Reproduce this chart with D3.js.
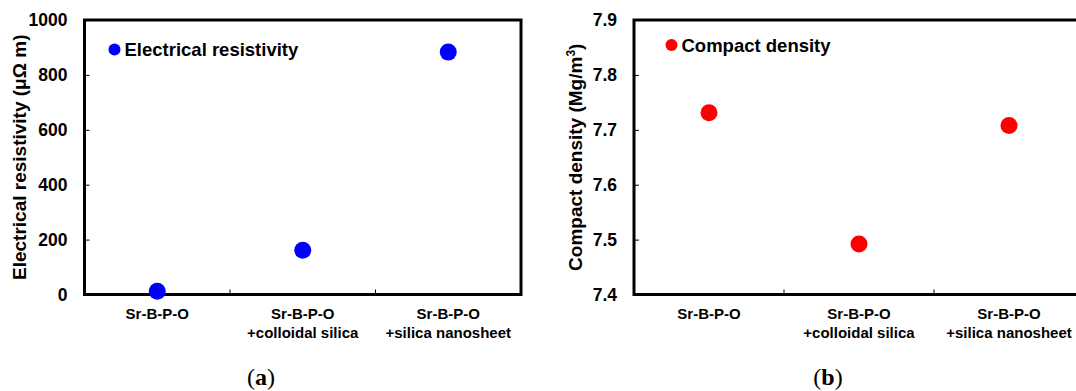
<!DOCTYPE html>
<html>
<head>
<meta charset="utf-8">
<script src="https://cdn.jsdelivr.net/npm/d3@7"></script>
<style>
  body { margin: 0; background: #fff; }
  svg { display: block; }
  text { font-family: "Liberation Sans", Arial, sans-serif; font-weight: bold; fill: #000; }
</style>
</head>
<body>
<div id="chart"></div>
<script>
// data
var categories = [
    ["Sr-B-P-O"],
    ["Sr-B-P-O", "+colloidal silica"],
    ["Sr-B-P-O", "+silica nanosheet"]
];
var resistivity = [12, 161, 883];
var density = [7.731, 7.492, 7.708];
var resistivityTicks = [0, 200, 400, 600, 800, 1000];
var densityTicks = [7.4, 7.5, 7.6, 7.7, 7.8, 7.9];

var width = 1076,
    height = 391;

var svg = d3.select('#chart')
    .append('svg')
        .attr('width', width)
        .attr('height', height);

function translate(x, y) { return 'translate(' + x + ',' + y + ')'; }

function drawPanel(opts) {
    var m = opts.frame,
        w = m.right - m.left,
        h = m.bottom - m.top;

    var g = svg.append('g').attr('transform', translate(m.left, m.top));

    var x = d3.scaleBand()
        .domain(d3.range(categories.length))
        .range([0, w])
        .padding(0);

    var y = d3.scaleLinear()
        .domain(opts.domain)
        .range([h, 0]);

    // y axis, ticks pointing inward
    var yAxis = g.append('g')
        .call(d3.axisLeft(y)
            .tickValues(opts.ticks)
            .tickSize(-5)
            .tickPadding(17)
            .tickFormat(opts.format));
    yAxis.select('.domain').remove();
    yAxis.selectAll('line').attr('stroke', '#000').attr('stroke-width', 1);
    yAxis.selectAll('text')
        .style('font-size', '17.5px')
        .style('font-family', '"Liberation Sans", Arial, sans-serif')
        .style('font-weight', 'bold');

    // x ticks at the category boundaries
    g.selectAll('.xtick')
        .data(d3.range(1, categories.length))
        .enter()
        .append('line')
            .attr('x1', function (d) { return d * x.step(); })
            .attr('x2', function (d) { return d * x.step(); })
            .attr('y1', h)
            .attr('y2', h - 5)
            .attr('stroke', '#000')
            .attr('stroke-width', 1);

    // category labels
    var lab = g.selectAll('.cat')
        .data(categories)
        .enter()
        .append('text')
            .attr('text-anchor', 'middle')
            .style('font-size', '15px')
            .attr('transform', function (d, i) { return translate(x(i) + x.bandwidth() / 2, h + 24); });
    lab.selectAll('tspan')
        .data(function (d) { return d; })
        .enter()
        .append('tspan')
            .attr('x', 0)
            .attr('y', function (d, i) { return i * 19.5; })
            .text(function (d) { return d; });

    // frame
    g.append('rect')
        .attr('width', w)
        .attr('height', h)
        .attr('fill', 'none')
        .attr('stroke', '#000')
        .attr('stroke-width', 3);

    // points
    g.selectAll('.pt')
        .data(opts.values)
        .enter()
        .append('circle')
            .attr('r', 8.5)
            .attr('fill', opts.color)
            .attr('cx', function (d, i) { return x(i) + x.bandwidth() / 2; })
            .attr('cy', function (d) { return y(d); });

    // legend
    var leg = g.append('g').attr('transform', translate(opts.legend[0], opts.legend[1]));
    leg.append('circle').attr('r', 6).attr('fill', opts.color);
    leg.append('text')
        .attr('x', 10)
        .attr('y', 6.5)
        .style('font-size', '18.5px')
        .text(opts.label);

    // y axis title
    var title = svg.append('text')
        .attr('text-anchor', 'middle')
        .style('font-size', '19px')
        .attr('transform', translate(opts.titleX, m.top + h / 2) + ' rotate(-90)');
    opts.title(title);

    // caption
    var cap = svg.append('text')
        .attr('x', opts.captionX)
        .attr('y', 385)
        .attr('text-anchor', 'middle')
        .style('font-family', '"Liberation Serif", "DejaVu Serif", serif')
        .style('font-weight', 'normal')
        .style('font-size', '24px');
    cap.append('tspan').text('(');
    cap.append('tspan').style('font-weight', 'bold').text(opts.caption);
    cap.append('tspan').text(')');
}

drawPanel({
    frame: {left: 84.5, right: 521, top: 20, bottom: 294.5},
    domain: [0, 1000],
    ticks: resistivityTicks,
    format: d3.format('d'),
    values: resistivity,
    color: '#0000ff',
    label: 'Electrical resistivity',
    legend: [30, 29.5],
    titleX: 26,
    title: function (t) { t.text('Electrical resistivity (\u03bc\u03a9 m)'); },
    captionX: 261,
    caption: 'a'
});

drawPanel({
    frame: {left: 634, right: 1084, top: 20, bottom: 294.5},
    domain: [7.4, 7.9],
    ticks: densityTicks,
    format: d3.format('.1f'),
    values: density,
    color: '#ff0000',
    label: 'Compact density',
    legend: [37.5, 25],
    titleX: 582,
    title: function (t) {
        t.append('tspan').text('Compact density (Mg/m');
        t.append('tspan').attr('dy', -7).style('font-size', '12px').text('3');
        t.append('tspan').attr('dy', 7).text(')');
    },
    captionX: 828,
    caption: 'b'
});
</script>
</body>
</html>
